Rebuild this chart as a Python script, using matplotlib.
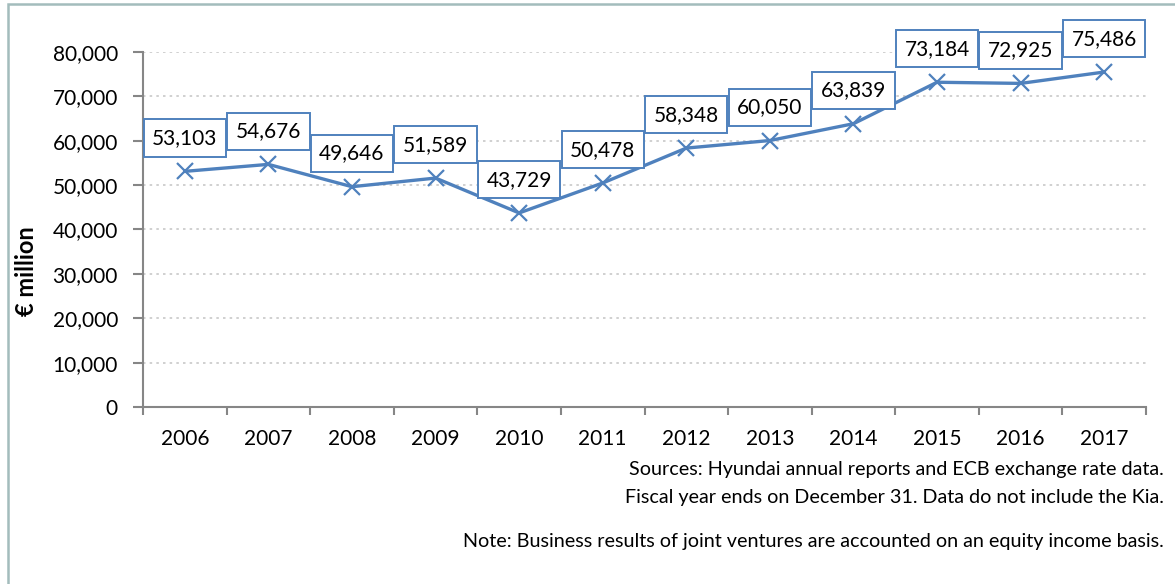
import matplotlib.pyplot as plt
from matplotlib.patches import Rectangle
from matplotlib.ticker import FuncFormatter

plt.rcParams['font.family'] = ['Lato', 'DejaVu Sans']

# Hyundai revenue, EUR million
years = ["2006", "2007", "2008", "2009", "2010", "2011",
         "2012", "2013", "2014", "2015", "2016", "2017"]
revenue = [53103, 54676, 49646, 51589, 43729, 50478,
           58348, 60050, 63839, 73184, 72925, 75486]

y_ticks = [0, 10000, 20000, 30000, 40000, 50000, 60000, 70000, 80000]

notes = [
    "Sources: Hyundai annual reports and ECB exchange rate data.",
    "Fiscal year ends on December 31. Data do not include the Kia.",
    "Note: Business results of joint ventures are accounted on an equity income basis.",
]

blue = "#4F81BD"
grey = "#868686"

fig = plt.figure(figsize=(11.75, 5.84), dpi=100)
ax = fig.add_axes([143 / 1175, 1 - 407 / 584, (1146 - 143) / 1175, (407 - 52) / 584])

x = list(range(len(years)))
ax.plot(x, revenue, color=blue, linewidth=2.4, marker="x",
        markersize=11, markeredgewidth=1.6, zorder=3)

for xi, v in zip(x, revenue):
    ax.annotate(f"{v:,}", (xi, v), xytext=(0, 24), textcoords="offset points",
                ha="center", va="center", fontsize=15, color="black", zorder=5,
                bbox=dict(boxstyle="square,pad=0.41", fc="white", ec=blue, lw=1.4))

ax.set_xlim(-0.5, len(years) - 0.5)
ax.set_ylim(0, 80000)
ax.set_yticks(y_ticks)
ax.yaxis.set_major_formatter(FuncFormatter(lambda v, p: f"{int(v):,}"))
ax.set_xticks(x)
ax.set_xticklabels(years)
ax.set_xticks([i - 0.5 for i in range(len(years) + 1)], minor=True)

ax.tick_params(axis="y", length=7, width=1.5, color=grey, labelsize=15, pad=11)
ax.tick_params(axis="x", which="major", length=0, labelsize=15, pad=16)
ax.tick_params(axis="x", which="minor", length=6, width=1.5, color=grey)

ax.grid(axis="y", color="#c8c8c8", linestyle=(0, (1.5, 2.5)), linewidth=1.2)
ax.set_axisbelow(True)
for s in ["top", "right"]:
    ax.spines[s].set_visible(False)
for s in ["left", "bottom"]:
    ax.spines[s].set_color(grey)
    ax.spines[s].set_linewidth(1.5)

fig.text(27 / 1175, 1 - 271 / 584, "€ million", rotation=90, ha="center",
         va="center", fontsize=17, fontweight="bold")

fig.text(1164 / 1175, 1 - 470 / 584, notes[0], ha="right", va="center", fontsize=14.2)
fig.text(1164 / 1175, 1 - 497 / 584, notes[1], ha="right", va="center", fontsize=14.2)
fig.text(1164 / 1175, 1 - 541 / 584, notes[2], ha="right", va="center", fontsize=14.2)

# outer frame (left and top edges visible)
fig.patches.append(Rectangle((8 / 1175, -0.1), 1.2, 1.1 - 3.5 / 584,
                             transform=fig.transFigure, fill=False,
                             ec="#a3bcbc", lw=1.8))

fig.savefig("out.png", dpi=100)
